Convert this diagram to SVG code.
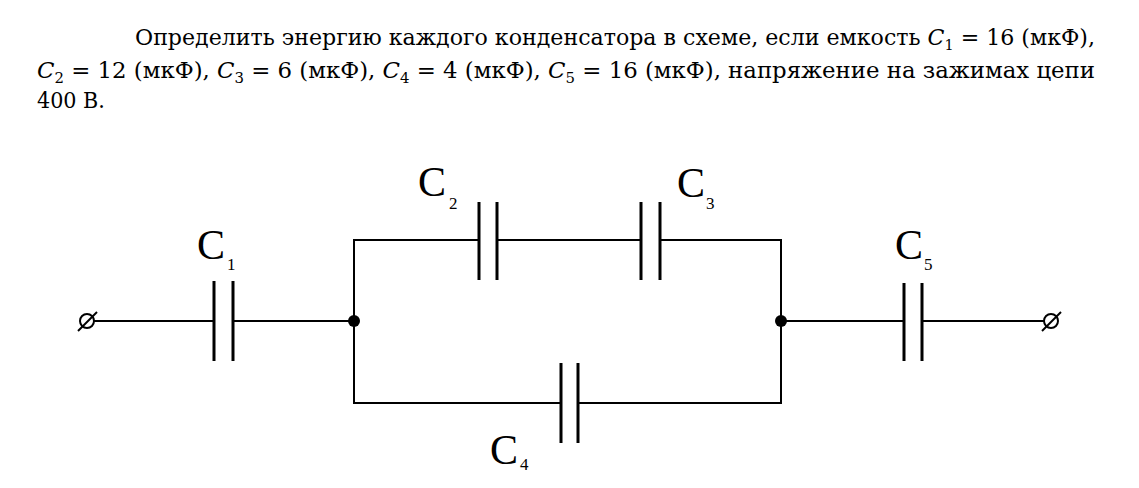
<svg xmlns="http://www.w3.org/2000/svg" width="1139" height="488" viewBox="0 0 1139 488">
<style>
.w{stroke:#000;stroke-width:2;fill:none}
.p{stroke:#000;stroke-width:3;fill:none}
.t{font-family:'DejaVu Serif Condensed','DejaVu Serif','Liberation Serif',serif;font-size:23px;fill:#000}
.l{font-family:'Liberation Serif','Times New Roman',serif;font-size:42px;fill:#000}
.s{font-family:'Liberation Serif','Times New Roman',serif;font-size:17px;fill:#000}
</style>
<rect width="1139" height="488" fill="#fff"/>
<g id="text">
<text class="t" x="135" y="45" textLength="960" lengthAdjust="spacingAndGlyphs">Определить энергию каждого конденсатора в схеме, если емкость <tspan font-style="italic">C</tspan><tspan font-size="15" dy="5">1</tspan><tspan dy="-5"> = 16 (мкФ),</tspan></text>
<text class="t" x="37" y="78" textLength="1058" lengthAdjust="spacingAndGlyphs"><tspan font-style="italic">C</tspan><tspan font-size="15" dy="5">2</tspan><tspan dy="-5"> = 12 (мкФ), </tspan><tspan font-style="italic">C</tspan><tspan font-size="15" dy="5">3</tspan><tspan dy="-5"> = 6 (мкФ), </tspan><tspan font-style="italic">C</tspan><tspan font-size="15" dy="5">4</tspan><tspan dy="-5"> = 4 (мкФ), </tspan><tspan font-style="italic">C</tspan><tspan font-size="15" dy="5">5</tspan><tspan dy="-5"> = 16 (мкФ), напряжение на зажимах цепи</tspan></text>
<text class="t" x="37" y="108">400 В.</text>
</g>
<g id="connectors">
<path class="w" d="M94 321H214M233 321H354M354 321V240H479M497 240H641M660 240H781V321M354 321V403H561M578 403H781V321M781 321H904M922 321H1044"/>
</g>
<g id="T1"><circle class="w" cx="87" cy="321" r="7"/><line class="w" x1="78" y1="331" x2="97" y2="312"/></g>
<g id="T2"><circle class="w" cx="1051" cy="321" r="7"/><line class="w" x1="1042" y1="331" x2="1061" y2="312"/></g>
<g id="N1"><circle cx="354" cy="321" r="6"/></g>
<g id="N2"><circle cx="781" cy="321" r="6"/></g>
<g id="C1"><path class="p" d="M214 281V361M233 281V361"/><text class="l" x="197" y="259">C</text><text class="s" x="227" y="270">1</text></g>
<g id="C2"><path class="p" d="M479 202V280M497 202V280"/><text class="l" x="418" y="196">C</text><text class="s" x="449" y="209">2</text></g>
<g id="C3"><path class="p" d="M641 202V280M660 202V280"/><text class="l" x="677" y="197">C</text><text class="s" x="706" y="209">3</text></g>
<g id="C4"><path class="p" d="M561 363V443M578 363V443"/><text class="l" x="490" y="464">C</text><text class="s" x="520" y="470">4</text></g>
<g id="C5"><path class="p" d="M904 283V361M922 283V361"/><text class="l" x="895" y="259">C</text><text class="s" x="924" y="270">5</text></g>
</svg>
